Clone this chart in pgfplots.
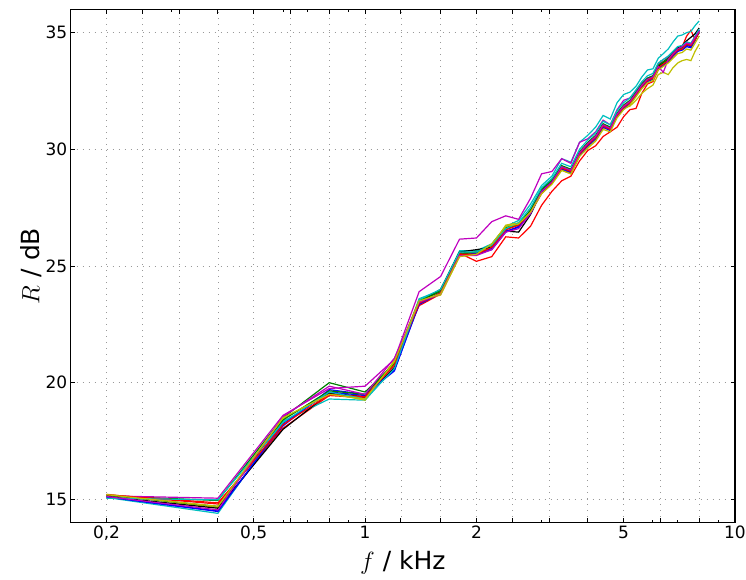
\documentclass[border=0pt]{standalone}
\usepackage{pgfplots}
\pgfplotsset{compat=1.18}
\usepackage{pgfplotstable}
\usepackage{fontspec}
\setmainfont{DejaVu Sans}
\definecolor{mb}{rgb}{0,0,1}
\definecolor{mg}{rgb}{0,0.5,0}
\definecolor{mr}{rgb}{1,0,0}
\definecolor{mc}{rgb}{0,0.75,0.75}
\definecolor{mm}{rgb}{0.75,0,0.75}
\definecolor{my}{rgb}{0.75,0.75,0}
\pgfplotstableread{
f b1 g1 r1 c1 m1 y1 k1 b2 g2 r2 c2 m2 y2
0.2 15.10 15.15 15.20 15.08 15.15 15.22 15.12 15.10 15.18 15.20 15.05 15.12 15.20
0.4 14.50 14.95 14.85 14.40 15.05 14.65 14.62 14.48 14.70 14.80 14.98 14.55 14.70
0.6 18.15 18.50 18.05 18.35 18.60 18.45 18.00 18.25 18.40 18.20 18.30 18.55 18.50
0.8 19.70 20.00 19.45 19.30 19.75 19.55 19.55 19.60 19.65 19.50 19.60 19.85 19.50
1.0 19.50 19.60 19.35 19.25 19.85 19.25 19.40 19.45 19.50 19.40 19.30 19.50 19.30
1.2 20.50 20.80 20.90 20.65 21.00 20.95 20.65 20.55 20.85 20.75 20.60 21.05 20.90
1.4 23.40 23.50 23.30 23.60 23.90 23.55 23.45 23.35 23.50 23.40 23.55 23.45 23.50
1.6 23.80 23.90 23.80 23.95 24.55 23.75 24.00 23.85 23.95 23.85 24.00 23.80 23.80
1.8 25.50 25.55 25.55 25.65 26.15 25.40 25.60 25.45 25.50 25.50 25.60 25.45 25.40
2.0 25.50 25.60 25.20 25.65 26.20 25.55 25.70 25.55 25.60 25.50 25.60 25.45 25.50
2.2 25.70 25.85 25.40 25.95 26.90 25.85 25.80 25.75 25.90 25.80 25.90 25.70 25.95
2.4 26.45 26.60 26.25 26.70 27.15 26.75 26.50 26.50 26.65 26.55 26.60 26.45 26.70
2.6 26.70 26.75 26.20 26.95 27.00 26.85 26.45 26.65 26.80 26.75 26.85 26.60 26.80
2.8 27.30 27.35 26.70 27.65 27.90 27.35 27.20 27.25 27.40 27.30 27.50 27.25 27.30
3.0 28.20 28.25 27.60 28.45 28.95 28.15 28.20 28.15 28.30 28.10 28.35 28.20 28.10
3.2 28.60 28.65 28.20 28.85 29.05 28.55 28.60 28.55 28.70 28.55 28.75 28.60 28.50
3.4 29.20 29.25 28.65 29.60 29.60 29.10 29.15 29.15 29.30 29.20 29.40 29.25 29.10
3.6 29.05 29.10 28.85 29.45 29.40 28.95 29.00 29.00 29.15 29.05 29.25 29.10 28.95
3.8 29.80 29.85 29.50 30.30 30.30 29.70 29.85 29.75 29.90 29.80 30.00 29.85 29.70
4.0 30.20 30.25 29.95 30.60 30.45 30.10 30.20 30.15 30.30 30.20 30.40 30.25 30.05
4.2 30.50 30.55 30.15 30.95 30.75 30.40 30.55 30.45 30.60 30.50 30.70 30.55 30.35
4.4 31.00 31.05 30.55 31.45 31.25 30.90 31.05 30.95 31.10 31.00 31.20 31.05 30.85
4.6 30.85 30.90 30.75 31.30 31.05 30.85 30.90 30.80 30.95 30.85 31.05 30.90 30.75
4.8 31.45 31.50 30.95 32.00 31.70 31.40 31.50 31.40 31.55 31.45 31.65 31.50 31.35
5.0 31.80 31.85 31.40 32.35 32.10 31.75 31.85 31.75 31.90 31.80 32.00 31.85 31.70
5.2 32.00 32.05 31.70 32.45 32.20 31.85 32.05 31.95 32.10 32.00 32.20 32.05 31.90
5.4 32.35 32.40 31.75 32.70 32.50 32.10 32.40 32.30 32.45 32.35 32.55 32.40 32.25
5.6 32.70 32.75 32.40 33.10 32.85 32.40 32.75 32.65 32.80 32.70 32.90 32.75 32.60
5.8 32.95 33.00 32.80 33.40 33.05 32.60 33.00 32.90 33.05 32.95 33.15 33.00 32.85
6.0 33.05 33.10 32.90 33.45 33.15 32.75 33.10 33.00 33.15 33.05 33.25 33.10 32.95
6.2 33.50 33.55 33.40 33.90 33.65 33.20 33.55 33.45 33.60 33.50 33.70 33.55 33.40
6.4 33.65 33.70 33.60 34.10 33.85 33.30 33.75 33.60 33.75 33.65 33.85 33.30 33.55
6.6 33.80 33.85 33.75 34.30 33.95 33.20 33.90 33.75 33.90 33.80 34.00 33.85 33.70
6.8 34.05 34.05 34.00 34.60 34.15 33.50 34.15 34.00 34.10 34.05 34.20 34.10 33.90
7.0 34.25 34.25 34.20 34.85 34.35 33.70 34.35 34.20 34.30 34.25 34.40 34.30 34.10
7.2 34.30 34.30 34.40 34.90 34.40 33.80 34.45 34.25 34.35 34.30 34.45 34.40 34.15
7.4 34.45 34.50 34.85 35.00 34.60 33.85 34.65 34.40 34.50 34.50 34.60 34.55 34.30
7.6 34.40 34.45 35.10 35.05 34.50 33.80 34.80 34.35 34.45 34.45 34.55 34.50 34.25
7.8 34.70 34.75 34.70 35.30 34.80 34.20 34.95 34.65 34.75 34.70 34.85 34.80 34.55
8.0 35.05 35.00 35.00 35.50 35.10 34.50 35.20 35.10 35.00 35.05 35.15 35.05 34.85
}\data
\begin{document}
\begin{tikzpicture}
\begin{axis}[
  name=ax,
  scale only axis,
  width=664.3pt, height=513.4pt,
  xmode=log,
  xmin=0.16, xmax=10,
  ymin=14, ymax=36,
  xtick={0.2,0.25,0.315,0.4,0.5,0.63,0.8,1,1.25,1.6,2,2.5,3.15,4,5,6.3,8,10},
  xticklabels={{0,2},{},{},{},{0,5},{},{},{1},{},{},{2},{},{},{},{5},{},{},{10}},
  minor xtick={0.3,0.6,0.7,0.9,3,6,7,9},
  ytick={15,20,25,30,35},
  grid=major,
  major grid style={gray!80, line width=0.8pt, dash pattern=on 1pt off 5pt},
  tick align=inside,
  tick pos=both,
  major tick length=4.5pt,
  minor tick length=2.5pt,
  axis line style={line width=1.2pt},
  every tick/.style={black, line width=0.9pt},
  ticklabel style={font=\fontsize{17}{20}\selectfont},
  /pgf/number format/assume math mode=true,
  xlabel={$f$ / kHz},
  ylabel={$R$ / dB},
  label style={font=\fontsize{25}{29}\selectfont},
  xlabel style={at={(axis description cs:0.5,-0.0766)}, anchor=center},
  ylabel style={at={(axis description cs:-0.0598,0.5)}, anchor=center},
  every axis plot/.append style={line width=1.2pt, no markers},
]
\addplot[mb] table[x=f,y=b1]{\data};
\addplot[mg] table[x=f,y=g1]{\data};
\addplot[mr] table[x=f,y=r1]{\data};
\addplot[mc] table[x=f,y=c1]{\data};
\addplot[mm] table[x=f,y=m1]{\data};
\addplot[my] table[x=f,y=y1]{\data};
\addplot[black] table[x=f,y=k1]{\data};
\addplot[mb] table[x=f,y=b2]{\data};
\addplot[mg] table[x=f,y=g2]{\data};
\addplot[mr] table[x=f,y=r2]{\data};
\addplot[mc] table[x=f,y=c2]{\data};
\addplot[mm] table[x=f,y=m2]{\data};
\addplot[my] table[x=f,y=y2]{\data};
\end{axis}
\pgfresetboundingbox
\useasboundingbox ([xshift=-70.7pt,yshift=-57.3pt]ax.south west) rectangle ([xshift=11pt,yshift=9.3pt]ax.north east);
\end{tikzpicture}
\end{document}
